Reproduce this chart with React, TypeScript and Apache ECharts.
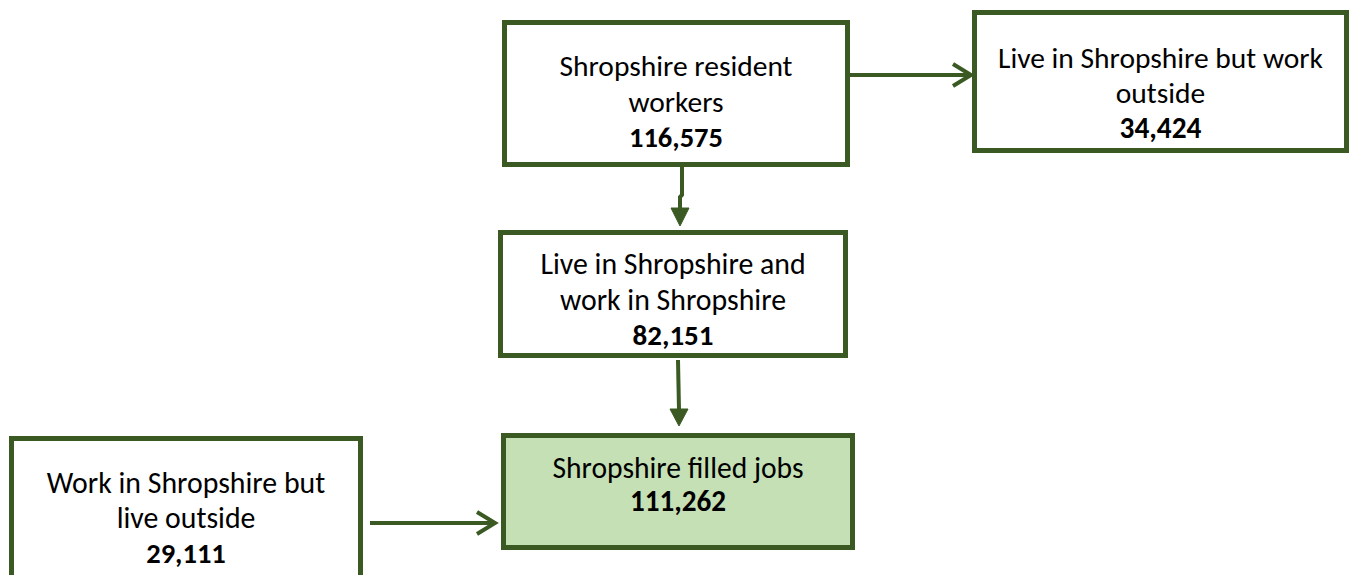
import React, { useEffect, useRef } from "react";
import * as echarts from "echarts";

const boxLabels: string[][] = [
  ["Shropshire resident", "workers"],
  ["Live in Shropshire but work", "outside"],
  ["Live in Shropshire and", "work in Shropshire"],
  ["Shropshire filled jobs"],
  ["Work in Shropshire but", "live outside"],
];
const boxValues: string[] = ["116,575", "34,424", "82,151", "111,262", "29,111"];

// layout: [x, y, w, h, firstBaseline, labelSize, valueSize, lineHeight, scaleX, fill]
const layout: [number, number, number, number, number, number, number, number, number, string][] = [
  [504.5, 22.5, 343, 142, 75, 29.5, 28.5, 35.5, 1, "#ffffff"],
  [974.5, 12.5, 372, 138, 67, 29.5, 29.3, 35, 1, "#ffffff"],
  [500.5, 232.5, 345, 123, 273, 29.8, 29, 35.5, 1, "#ffffff"],
  [503.5, 435.5, 349, 112, 477, 31, 30.5, 33, 0.955, "#c5e0b4"],
  [11.5, 438.5, 349, 145, 492, 29.8, 28.5, 35, 1, "#ffffff"],
];

const GREEN = "#3b5a23";
const FONT = "Carlito, Lato, sans-serif";

export default function App() {
  const ref = useRef<HTMLDivElement>(null);
  useEffect(() => {
    document.body.style.margin = "0";
    const chart = echarts.init(ref.current!, undefined, { renderer: "svg" });
    const elements: any[] = [];
    boxLabels.forEach((lines, i) => {
      const [x, y, w, h, base, fs, vs, lh, sx, fill] = layout[i];
      elements.push({
        type: "rect",
        shape: { x, y, width: w, height: h },
        style: { fill, stroke: GREEN, lineWidth: 5 },
      });
      const txt = lines.map((l) => `{a|${l}}`).join("\n") + `\n{b|${boxValues[i]}}`;
      elements.push({
        type: "text",
        x: x + w / 2,
        y: base - lh / 2 - 0.3 * fs,
        scaleX: sx,
        style: {
          text: txt,
          align: "center",
          verticalAlign: "top",
          rich: {
            a: { fontFamily: FONT, fontSize: fs, lineHeight: lh, fill: "#000", align: "center" },
            b: { fontFamily: FONT, fontSize: vs, fontWeight: "bold", lineHeight: lh, fill: "#000", align: "center" },
          },
        },
      });
    });
    const line = (pts: number[][]) => ({
      type: "polyline",
      shape: { points: pts },
      style: { stroke: GREEN, lineWidth: 4, fill: "none" },
    });
    const tri = (pts: number[][]) => ({
      type: "polygon",
      shape: { points: pts },
      style: { fill: GREEN, stroke: GREEN, lineWidth: 1 },
    });
    elements.push(line([[850, 75], [970, 75]]));
    elements.push(line([[953, 64], [971, 75], [953, 86]]));
    elements.push(line([[370, 523], [494, 523]]));
    elements.push(line([[477, 512], [495, 523], [477, 534]]));
    elements.push(line([[682, 167], [682, 195], [680, 197], [680, 210]]));
    elements.push(tri([[671, 208], [689, 208], [680, 226]]));
    elements.push(line([[678, 360], [679, 410]]));
    elements.push(tri([[670, 409], [688, 409], [679, 426]]));

    chart.setOption({
      animation: false,
      backgroundColor: "#ffffff",
      graphic: { elements },
    });
    return () => chart.dispose();
  }, []);
  return <div ref={ref} style={{ width: 1351, height: 575 }} />;
}
